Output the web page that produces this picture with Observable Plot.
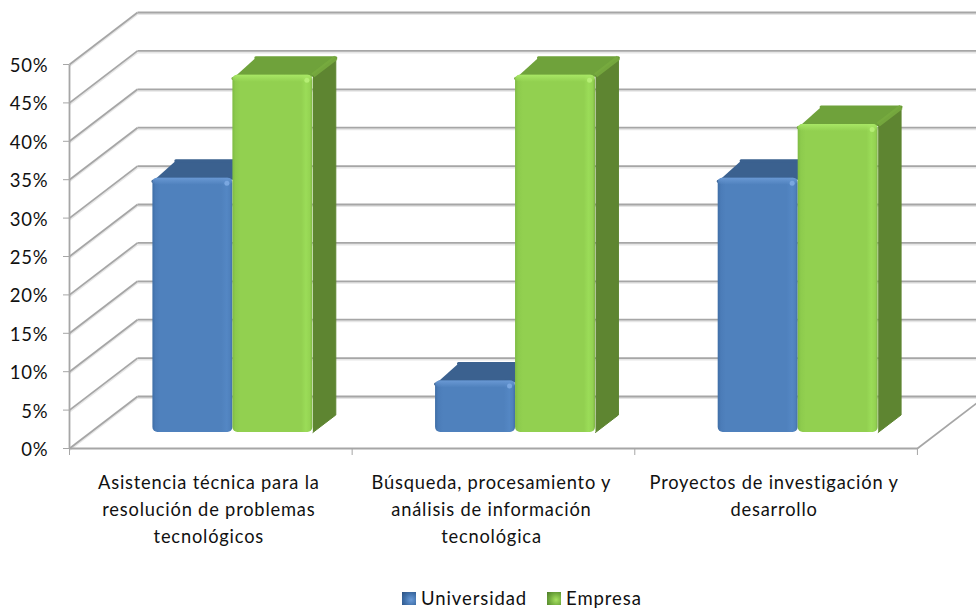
<!DOCTYPE html>
<html lang="es">
<head>
<meta charset="utf-8">
<script src="https://cdn.jsdelivr.net/npm/d3@7"></script>
<script src="https://cdn.jsdelivr.net/npm/@observablehq/plot@0.6"></script>
<style>
html,body{margin:0;padding:0;background:#fff;overflow:hidden;width:976px;height:608px}
#legend{display:flex;justify-content:flex-start;align-items:center;height:24px;margin-top:2px;padding-left:402px;font:18.5px Lato,"Noto Sans",sans-serif;letter-spacing:.9px;color:#111}
.sw{display:inline-block;width:14px;height:13px;margin-right:5px}
.lab{margin-right:20px}
svg text{letter-spacing:.8px}
</style>
</head>
<body>
<div id="chart"></div>
<div id="legend"></div>
<script>
const categories = [
  "Asistencia técnica para la\nresolución de problemas\ntecnológicos",
  "Búsqueda, procesamiento y\nanálisis de información\ntecnológica",
  "Proyectos de investigación y\ndesarrollo"
];
const universidad = [33.1, 6.7, 33.1];
const empresa = [46.5, 46.5, 40.1];
const yTicks = [0, 5, 10, 15, 20, 25, 30, 35, 40, 45, 50];
const xTicks = [0, 1, 2, 3];

// oblique projection, in data units per unit of depth
const XMAX = 3.209, DX = 0.2406, DY = 6.77;
const BAR_FRONT = 0.308, BAR_BACK = 0.645, FLOOR_VISIBLE = 0.868;
const BAR_W = 0.283, CENTER = 0.504;
const P = (x, y, d = 0) => ({x: x + d * DX, y: y + d * DY});

const gridColor = "#a6a6a6";
const seg = (a, b) => ({x1: a.x, y1: a.y, x2: b.x, y2: b.y});
const wallLines = yTicks.flatMap(t => [seg(P(0, t), P(0, t, 1)), seg(P(0, t, 1), {x: XMAX, y: t + DY})]);
const floorLines = [seg(P(0, 0), P(3, 0)), seg(P(3, 0), P(3, 0, FLOOR_VISIBLE)), seg(P(0, 0), P(0, 50))];

function bars(values, offset) {
  return values.map((v, i) => {
    const a = i + CENTER + offset - BAR_W, b = i + CENTER + offset;
    return {id: i, a, b, v};
  });
}
const blue = bars(universidad, 0), green = bars(empresa, BAR_W);

const front = rows => rows.map(r => {
  const p = P(r.a, 0, BAR_FRONT), q = P(r.b, r.v, BAR_FRONT);
  return {x1: p.x, x2: q.x, y1: p.y, y2: q.y};
});
const band = rows => rows.map(r => {
  const p = P(r.a, r.v - 0.9, BAR_FRONT), q = P(r.b, r.v, BAR_FRONT);
  return {x1: p.x, x2: q.x, y1: p.y, y2: q.y};
});
const topFace = rows => rows.flatMap(r => [
  {...P(r.a, r.v - 0.4, BAR_FRONT), z: r.id}, {...P(r.b, r.v, BAR_FRONT), z: r.id},
  {...P(r.b, r.v, BAR_BACK), z: r.id}, {...P(r.a, r.v, BAR_BACK), z: r.id}
]);
const sideFace = rows => rows.flatMap(r => [
  {...P(r.b, r.v, BAR_FRONT), z: r.id}, {...P(r.b, r.v, BAR_BACK), z: r.id},
  {...P(r.b, 0, BAR_BACK), z: r.id}, {...P(r.b, 0, BAR_FRONT), z: r.id}
]);
const ridge = rows => rows.map(r => seg(P(r.b, r.v, BAR_FRONT), P(r.b, r.v, BAR_BACK)));
const corner = rows => rows.map(r => P(r.b, r.v, BAR_FRONT));

function defs() {
  const ns = "http://www.w3.org/2000/svg";
  const d = document.createElementNS(ns, "defs");
  const grad = (id, dirV, stops) => {
    const g = document.createElementNS(ns, "linearGradient");
    g.setAttribute("id", id);
    g.setAttribute("x1", 0); g.setAttribute("y1", 0);
    g.setAttribute("x2", dirV ? 0 : 1); g.setAttribute("y2", dirV ? 1 : 0);
    for (const [o, c, a] of stops) {
      const s = document.createElementNS(ns, "stop");
      s.setAttribute("offset", o); s.setAttribute("stop-color", c);
      s.setAttribute("stop-opacity", a ?? 1);
      g.appendChild(s);
    }
    d.appendChild(g);
  };
  grad("blueFront", false, [[0, "#3f6ea6"], [0.04, "#4b7cb8"], [0.1, "#4f81bd"], [0.86, "#4f81bd"], [0.93, "#5487c4"], [0.97, "#4f81bd"], [1, "#426fa6"]]);
  grad("greenFront", false, [[0, "#7fbb44"], [0.04, "#8dcb4d"], [0.1, "#92d050"], [0.86, "#92d050"], [0.92, "#9bdc58"], [0.97, "#94d352"], [1, "#7fb446"]]);
  grad("blueTopBand", true, [[0, "#6c9bd6", 0.9], [1, "#6c9bd6", 0]]);
  grad("greenTopBand", true, [[0, "#a9e866", 0.95], [1, "#a9e866", 0]]);
  return d;
}

const chart = Plot.plot({
  width: 976,
  height: 584,
  marginLeft: 69,
  marginRight: 0,
  marginTop: 64,
  marginBottom: 136,
  style: {background: "#fff", fontFamily: "Lato, 'Noto Sans', sans-serif", overflow: "hidden"},
  x: {domain: [0, XMAX], range: [69, 976]},
  y: {domain: [0, 50], range: [448, 64]},
  marks: [
    defs,
    Plot.link(wallLines, {x1: "x1", y1: "y1", x2: "x2", y2: "y2", stroke: "#e6e6e6", strokeWidth: 2, dy: 1.5}),
    Plot.link(wallLines, {x1: "x1", y1: "y1", x2: "x2", y2: "y2", stroke: gridColor, strokeWidth: 1.8}),
    Plot.link(floorLines, {x1: "x1", y1: "y1", x2: "x2", y2: "y2", stroke: gridColor, strokeWidth: 1.8}),
    Plot.axisY({ticks: yTicks, tickSize: 6, tickFormat: () => "", label: null, stroke: gridColor}),
    Plot.axisY({ticks: yTicks, tickSize: 0, tickPadding: 21, dy: 1.5, tickFormat: d => d + "%", label: null, fontSize: 18.5, fill: "#111"}),
    Plot.axisX({ticks: xTicks, tickSize: 7, tickFormat: () => "", label: null, stroke: gridColor}),
    Plot.text(categories, {x: (d, i) => i + 0.5, y: () => 0, text: d => d, dy: 21, dx: -2, lineAnchor: "top", textAnchor: "middle", fontSize: 18.3, lineHeight: 1.48, fill: "#111"}),

    Plot.line(topFace(blue), {x: "x", y: "y", z: "z", fill: "#3b618f", stroke: "#3b618f", strokeWidth: 3, strokeLinejoin: "round"}),
    Plot.rect(front(blue), {x1: "x1", x2: "x2", y1: "y1", y2: "y2", fill: "url(#blueFront)", rx: 5}),
    Plot.rect(band(blue), {x1: "x1", x2: "x2", y1: "y1", y2: "y2", fill: "url(#blueTopBand)", rx: 5}),
    Plot.dot(corner(blue), {x: "x", y: "y", r: 2.5, fill: "#7aa7e0", dx: -6, dy: 5}),

    Plot.line(topFace(green), {x: "x", y: "y", z: "z", fill: "#6fa23b", stroke: "#6fa23b", strokeWidth: 3, strokeLinejoin: "round"}),
    Plot.line(sideFace(green), {x: "x", y: "y", z: "z", fill: "#5e8531", stroke: "#5e8531", strokeWidth: 1, strokeLinejoin: "round"}),
    Plot.link(ridge(green), {x1: "x1", y1: "y1", x2: "x2", y2: "y2", stroke: "#78ac40", strokeWidth: 5, strokeOpacity: 0.85}),
    Plot.rect(front(green), {x1: "x1", x2: "x2", y1: "y1", y2: "y2", fill: "url(#greenFront)", rx: 5}),
    Plot.rect(band(green), {x1: "x1", x2: "x2", y1: "y1", y2: "y2", fill: "url(#greenTopBand)", rx: 5}),
    Plot.dot(corner(green), {x: "x", y: "y", r: 2.5, fill: "#b5ee75", dx: -6, dy: 5})
  ]
});
document.getElementById("chart").appendChild(chart);

const legendItems = [
  ["Universidad", "radial-gradient(circle at 65% 60%, #6a9bd8 0%, #3f6fa8 55%, #2c5080 100%)"],
  ["Empresa", "radial-gradient(circle at 65% 60%, #a6e060 0%, #6fa83c 55%, #4d7a28 100%)"]
];
const legend = document.getElementById("legend");
for (const [name, bg] of legendItems) {
  const s = document.createElement("span"); s.className = "sw"; s.style.background = bg;
  const t = document.createElement("span"); t.className = "lab"; t.textContent = name;
  legend.append(s, t);
}
</script>
</body>
</html>
